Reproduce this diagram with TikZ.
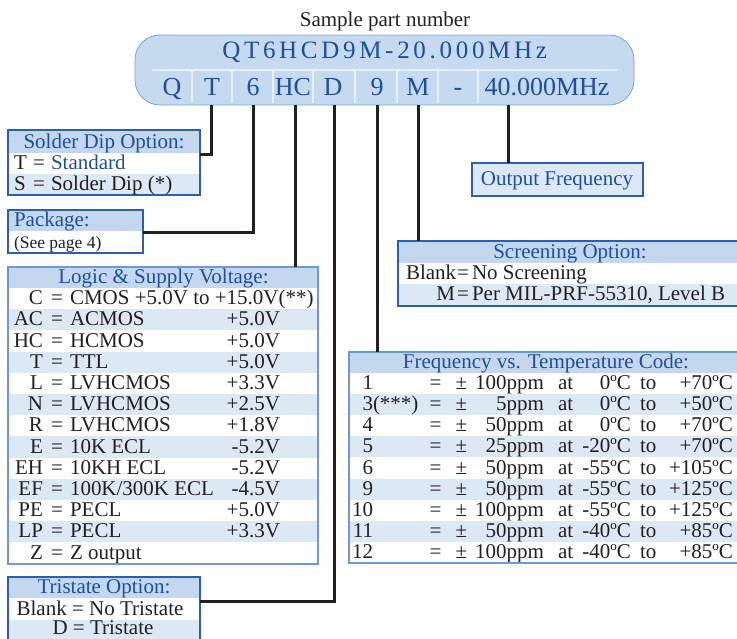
\documentclass[tikz,border=0pt]{standalone}
\usepackage{fontspec}
\setmainfont{Liberation Serif}
\definecolor{hdrfill}{HTML}{C3D8EE}
\definecolor{rowfill}{HTML}{DDE8F5}
\definecolor{txtblue}{HTML}{1F4E9C}
\definecolor{dkborder}{HTML}{2F5FAA}
\definecolor{ltborder}{HTML}{6E98D2}
\definecolor{ink}{HTML}{231F20}
\definecolor{pillfill}{HTML}{C5D9EF}
\definecolor{pillborder}{HTML}{7DA2D2}
\definecolor{sepwhite}{HTML}{E8F0FA}
\newcommand\mysp{}
\newcommand\spacedtext[2]{\def\mysp{#1}\myspacedaux#2\relax}
\def\myspacedaux#1{\ifx\relax#1\else#1\kern\mysp\expandafter\myspacedaux\fi}
\begin{document}
\begin{tikzpicture}[x=1pt,y=-1pt,
  every node/.style={inner sep=0pt,outer sep=0pt},
  tx/.style={font=\fontsize{21}{24}\selectfont,text=ink},
  bl/.style={font=\fontsize{21}{24}\selectfont,text=txtblue},
  sm/.style={font=\fontsize{17.5}{20}\selectfont,text=ink},
  big/.style={font=\fontsize{26}{28}\selectfont,text=txtblue},
  conn/.style={draw=ink,line width=3pt},
  boxd/.style={draw=dkborder,line width=1.1pt,anchor=north west},
  boxl/.style={draw=ltborder,line width=1.1pt,anchor=north west},
  sepline/.style={draw=sepwhite,line width=2pt}]
\useasboundingbox (0,0) rectangle (737,638);

% ---------- title and part-number pill ----------
\node[tx,anchor=base] (title) at (385,26.5) {Sample part number};
\node[draw=pillborder,fill=pillfill,line width=0.8pt,rounded corners=25pt,
      minimum width=499pt,minimum height=70pt,anchor=north west] (pill) at (135,35) {};
\draw[sepline] (152,70) -- (617,70);
\foreach \sx in {192,232,273,313,355,397,438,478}
  \draw[sepline] (\sx,70) -- (\sx,103);
\node[font=\fontsize{25}{28}\selectfont,text=txtblue,anchor=base] (pnum) at (386.5,58)
  {\spacedtext{3.7pt}{QT6HCD9M-20.000MHz}};
\node[big,anchor=base] (pQ) at (172,95) {Q};
\node[big,anchor=base] (pT) at (212,95) {T};
\node[big,anchor=base] (p6) at (253,95) {6};
\node[big,anchor=base] (pHC) at (293,95) {HC};
\node[big,anchor=base] (pD) at (333,95) {D};
\node[big,anchor=base] (p9) at (377,95) {9};
\node[big,anchor=base] (pM) at (418,95) {M};
\node[big,anchor=base] (pdash) at (458,95) {-};
\node[big,anchor=base] (pF) at (547,95) {40.000MHz};

\coordinate (c1) at (211,105);
\coordinate (c2) at (253,105);
\coordinate (c3) at (295,105);
\coordinate (c4) at (334,105);
\coordinate (c5) at (377,105);
\coordinate (c6) at (418,105);
\coordinate (c7) at (508,105);

% ---------- Solder Dip Option ----------
\fill[hdrfill] (8,130) rectangle (200,153);
\fill[rowfill] (8,174) rectangle (200,195);
\node[boxd,minimum width=192pt,minimum height=65pt] (solder) at (8,130) {};
\node[bl,anchor=base] (solderH) at (104,148) {Solder Dip Option:};
\node[tx,anchor=base west] (sT) at (14,169.5) {T};
\node[tx,anchor=base west] (sTe) at (33,169.5) {=};
\node[bl,anchor=base west] (sTd) at (51,169.5) {Standard};
\node[tx,anchor=base west] (sS) at (14,190.5) {S};
\node[tx,anchor=base west] (sSe) at (33,190.5) {=};
\node[tx,anchor=base west] (sSd) at (51,190.5) {Solder Dip (*)};

% ---------- Package ----------
\fill[hdrfill] (8,210) rectangle (143,231);
\node[boxd,minimum width=135pt,minimum height=43pt] (package) at (8,210) {};
\node[bl,anchor=base west] (packH) at (14,226.5) {Package:};
\node[sm,anchor=base west] (packR) at (14,248) {(See page 4)};

% ---------- Logic & Supply Voltage ----------
\fill[hdrfill] (8,267) rectangle (318,288);
\foreach \code/\desc/\volt [count=\i from 0] in {
  C/{CMOS +5.0V to +15.0V(**)}/{},
  AC/ACMOS/+5.0V, HC/HCMOS/+5.0V, T/TTL/+5.0V,
  L/LVHCMOS/+3.3V, N/LVHCMOS/+2.5V, R/LVHCMOS/+1.8V,
  E/{10K ECL}/-5.2V, EH/{10KH ECL}/-5.2V, EF/{100K/300K ECL}/-4.5V,
  PE/PECL/+5.0V, LP/PECL/+3.3V, Z/{Z output}/{}}{
  \pgfmathsetmacro\yt{288+\i*21.2}
  \pgfmathsetmacro\yb{\yt+21.2}
  \pgfmathsetmacro\ybase{\yb-4.5}
  \ifodd\i \fill[rowfill] (8,\yt) rectangle (318,\yb); \fi
  \node[tx,anchor=base east] (lc\i) at (43,\ybase) {\code};
  \node[tx,anchor=base] (le\i) at (57,\ybase) {=};
  \node[tx,anchor=base west] (ld\i) at (70,\ybase) {\desc};
  \node[tx,anchor=base east] (lv\i) at (280,\ybase) {\volt};
}
\node[boxl,minimum width=310pt,minimum height=297pt] (logic) at (8,267) {};
\node[bl,anchor=base] (logicH) at (163.5,283.5) {Logic \& Supply Voltage:};

% ---------- Tristate Option ----------
\fill[hdrfill] (8,577) rectangle (200,598);
\fill[rowfill] (8,620) rectangle (200,642);
\node[boxd,minimum width=192pt,minimum height=66pt] (tristate) at (8,577) {};
\node[bl,anchor=base] (triH) at (104,593.5) {Tristate Option:};
\node[tx,anchor=base] (triB) at (100,615) {Blank = No Tristate};
\node[tx,anchor=base] (triD) at (103,634.5) {D = Tristate};

% ---------- Output Frequency ----------
\node[boxd,fill=rowfill,minimum width=171pt,minimum height=33pt] (outf) at (472,163) {};
\node[bl,anchor=base] (outfT) at (557,185) {Output Frequency};

% ---------- Screening Option ----------
\fill[hdrfill] (398,241) rectangle (745,263);
\fill[rowfill] (398,284) rectangle (745,305);
\node[boxd,minimum width=347pt,minimum height=65pt] (screen) at (398,241) {};
\node[bl,anchor=base] (scrH) at (570,258.5) {Screening Option:};
\node[tx,anchor=base west] (scrB) at (406,279.5) {Blank};
\node[tx,anchor=base west] (scrBe) at (457,279.5) {=};
\node[tx,anchor=base west] (scrBd) at (472,279.5) {No Screening};
\node[tx,anchor=base east] (scrM) at (455,300.5) {M};
\node[tx,anchor=base west] (scrMe) at (457,300.5) {=};
\node[tx,anchor=base west] (scrMd) at (472,300.5) {Per MIL-PRF-55310, Level B};

% ---------- Frequency vs. Temperature Code ----------
\fill[hdrfill] (349,352) rectangle (745,373);
\foreach \code/\ppm/\ta/\tb [count=\i from 0] in {
  1/100ppm/0ºC/+70ºC,
  {3\rlap{(***)}}/5ppm/0ºC/+50ºC,
  4/50ppm/0ºC/+70ºC,
  5/25ppm/-20ºC/+70ºC,
  6/50ppm/-55ºC/+105ºC,
  9/50ppm/-55ºC/+125ºC,
  10/100ppm/-55ºC/+125ºC,
  11/50ppm/-40ºC/+85ºC,
  12/100ppm/-40ºC/+85ºC}{
  \pgfmathsetmacro\yt{373+\i*21.1}
  \pgfmathsetmacro\yb{\yt+21.1}
  \pgfmathsetmacro\ybase{\yb-4.5}
  \ifodd\i \fill[rowfill] (349,\yt) rectangle (745,\yb); \fi
  \node[tx,anchor=base east] (fc\i) at (373,\ybase) {\code};
  \node[tx,anchor=base] (fe\i) at (435.5,\ybase) {=};
  \node[tx,anchor=base] (fpm\i) at (461.5,\ybase) {±};
  \node[tx,anchor=base east] (fp\i) at (544,\ybase) {\ppm};
  \node[tx,anchor=base west] (fat\i) at (558,\ybase) {at};
  \node[tx,anchor=base east] (fa\i) at (631,\ybase) {\ta};
  \node[tx,anchor=base west] (fto\i) at (640,\ybase) {to};
  \node[tx,anchor=base east] (fb\i) at (733,\ybase) {\tb};
}
\node[boxl,minimum width=396pt,minimum height=211pt] (freq) at (349,352) {};
\node[bl,anchor=base] (freqH) at (546,368.5) {Frequency vs. Temperature Code:};

% ---------- connectors ----------
\draw[conn] (c1) |- (solder.east |- 0,154);
\draw[conn] (c2) |- (package.east |- 0,232);
\draw[conn] (c3) -- (c3 |- logic.north);
\draw[conn] (c4) |- (tristate.east |- 0,601);
\draw[conn] (c5) -- (c5 |- freq.north);
\draw[conn] (c6) -- (c6 |- screen.north);
\draw[conn] (c7) -- (c7 |- outf.north);
\end{tikzpicture}
\end{document}
